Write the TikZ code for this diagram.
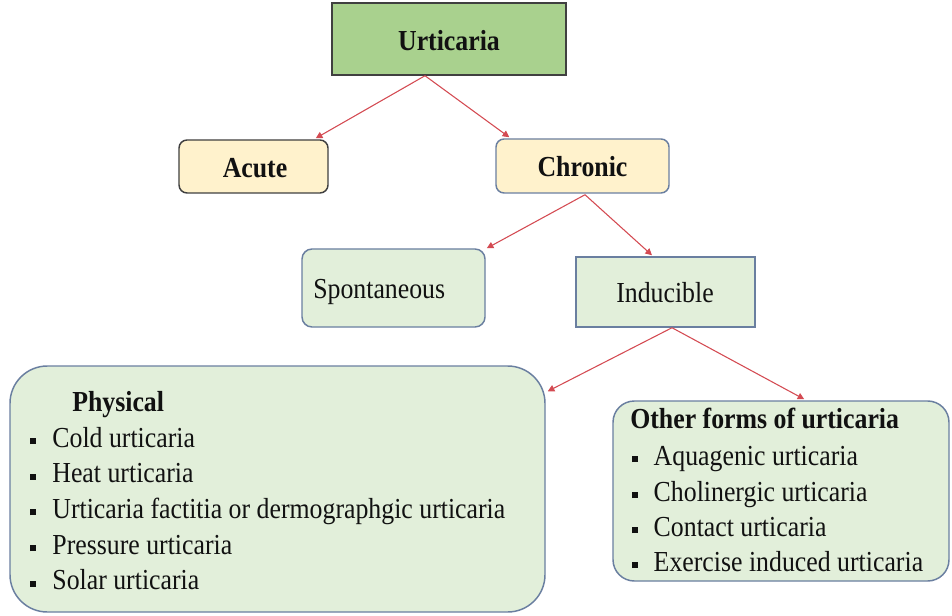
\documentclass[tikz,border=0pt]{standalone}
\usepackage{fontspec}
\setmainfont{Liberation Serif}[FakeStretch=0.89]
\usetikzlibrary{arrows.meta,calc}
\definecolor{urtfill}{HTML}{A9D18E}
\definecolor{yelfill}{HTML}{FFF2CC}
\definecolor{grnfill}{HTML}{E2EFDA}
\definecolor{darkline}{HTML}{404040}
\definecolor{blueline}{HTML}{6A7FA0}
\definecolor{arrowred}{HTML}{D44A52}
\definecolor{txt}{HTML}{111111}
\newcommand{\sqbul}[1]{\rule[2.2pt]{4.6pt}{4.6pt}\hspace{#1}}
\begin{document}
\begin{tikzpicture}[x=0.75pt,y=-0.75pt,
  box/.style={inner sep=0pt, line width=1.1pt},
  lbl/.style={inner sep=0pt, text=txt, font=\fontsize{21.75pt}{26pt}\selectfont},
  blbl/.style={lbl, font=\fontsize{21.75pt}{26pt}\selectfont\bfseries},
  conn/.style={draw=arrowred, line width=0.8pt, -{Triangle[length=5pt,width=5pt]}}]
\useasboundingbox (0,0) rectangle (952,616);
\fill[white] (0,0) rectangle (952,616);
% boxes
\node[box, draw=darkline, fill=urtfill, minimum width=234*0.75pt, minimum height=72*0.75pt] (urt) at (449,39) {};
\node[box, draw=darkline, fill=yelfill, rounded corners=6pt, minimum width=149*0.75pt, minimum height=53*0.75pt] (acute) at (253.5,166.5) {};
\node[box, draw=blueline, fill=yelfill, rounded corners=6pt, minimum width=173*0.75pt, minimum height=54*0.75pt] (chr) at (582.5,166) {};
\node[box, draw=blueline, fill=grnfill, rounded corners=7.5pt, minimum width=183*0.75pt, minimum height=78*0.75pt] (spon) at (393.5,288) {};
\node[box, draw=blueline, fill=grnfill, minimum width=179*0.75pt, minimum height=70*0.75pt] (ind) at (665.5,292) {};
\node[box, draw=blueline, fill=grnfill, rounded corners=28pt, minimum width=535*0.75pt, minimum height=246*0.75pt] (phys) at (277.5,489) {};
\node[box, draw=blueline, fill=grnfill, rounded corners=16pt, minimum width=336*0.75pt, minimum height=180*0.75pt] (oth) at (781,491) {};
% labels
\node[blbl, anchor=base] (turt) at (449,51) {Urticaria};
\node[blbl, anchor=base] (tacute) at (255,178) {Acute};
\node[blbl, anchor=base] (tchr) at (582.5,177) {Chronic};
\node[lbl, anchor=base west] (tspon) at (313,299) {Spontaneous};
\node[lbl, anchor=base] (tind) at (665,303) {Inducible};
\node[blbl, anchor=base west] (p0) at (72,411) {Physical};
\node[lbl, anchor=base west] (p1) at (30,447) {\sqbul{12pt}Cold urticaria};
\node[lbl, anchor=base west] (p2) at (30,482.7) {\sqbul{12pt}Heat urticaria};
\node[lbl, anchor=base west] (p3) at (30,518.3) {\sqbul{12pt}Urticaria factitia or dermographgic urticaria};
\node[lbl, anchor=base west] (p4) at (30,554) {\sqbul{12pt}Pressure urticaria};
\node[lbl, anchor=base west] (p5) at (30,589.6) {\sqbul{12pt}Solar urticaria};
\node[blbl, anchor=base west] (o0) at (630,428) {Other forms of urticaria};
\node[lbl, anchor=base west] (o1) at (632,465) {\sqbul{11.5pt}Aquagenic urticaria};
\node[lbl, anchor=base west] (o2) at (632,501) {\sqbul{11.5pt}Cholinergic urticaria};
\node[lbl, anchor=base west] (o3) at (632,536) {\sqbul{11.5pt}Contact urticaria};
\node[lbl, anchor=base west] (o4) at (632,571) {\sqbul{11.5pt}Exercise induced urticaria};
% connectors
\draw[conn] ($(urt.south)+(-24,0)$) -- ($(acute.north east)+(-13,-1)$);
\draw[conn] ($(urt.south)+(-24,0)$) -- ($(chr.north west)+(14,-1)$);
\draw[conn] ($(chr.south)+(2.5,1)$) -- ($(spon.north east)+(1,0)$);
\draw[conn] ($(chr.south)+(2.5,1)$) -- ($(ind.north)+(-13.5,-1)$);
\draw[conn] ($(ind.south)+(6.5,0)$) -- ($(phys.north east)+(2,26)$);
\draw[conn] ($(ind.south)+(6.5,0)$) -- ($(oth.north west)+(192,-1)$);
\end{tikzpicture}
\end{document}
